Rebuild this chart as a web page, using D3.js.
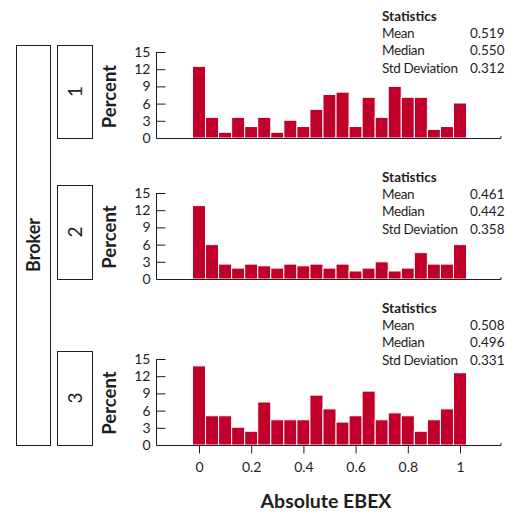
<!DOCTYPE html>
<html>
<head>
<meta charset="utf-8">
<script src="https://cdn.jsdelivr.net/npm/d3@7"></script>
<style>
  html, body { margin: 0; padding: 0; background: #fff; }
  svg { display: block; font-family: Lato, "Open Sans", sans-serif; }
</style>
</head>
<body>
<svg id="chart" width="515" height="513"></svg>
<script>
// Histogram bin midpoints of Absolute EBEX (bin width 0.05)
const binMids = d3.range(21).map(i => +(i * 0.05).toFixed(2));

// Percent of observations per bin, one series per broker
const broker1 = [12.5, 3.6, 1.0, 3.6, 2.0, 3.6, 1.0, 3.1, 2.0, 5.0, 7.6, 8.0, 2.0, 7.1, 3.6, 9.0, 7.1, 7.1, 1.5, 2.0, 6.1];
const broker2 = [12.8, 6.0, 2.6, 1.9, 2.6, 2.3, 1.9, 2.6, 2.3, 2.6, 1.9, 2.6, 1.4, 1.9, 3.0, 1.4, 1.9, 4.6, 2.6, 2.6, 6.0];
const broker3 = [13.8, 5.1, 5.1, 3.1, 2.4, 7.5, 4.4, 4.4, 4.4, 8.7, 6.3, 4.0, 5.1, 9.4, 4.4, 5.6, 5.1, 2.4, 4.4, 6.3, 12.6];

const brokers = ["1", "2", "3"];
const seriesList = [broker1, broker2, broker3];

const statLabels = ["Mean", "Median", "Std Deviation"];
const statValues = [
  ["0.519", "0.550", "0.312"],
  ["0.461", "0.442", "0.358"],
  ["0.508", "0.496", "0.331"]
];

const yTicks = [0, 3, 6, 9, 12, 15];
const xTicks = [0, 0.2, 0.4, 0.6, 0.8, 1];
const xTickLabels = ["0", "0.2", "0.4", "0.6", "0.8", "1"];

const barColor = "#C0002B";
const ink = "#1e1e1e";

const svg = d3.select("#chart");

// layout
const panelZero = [138, 279, 445];   // baseline of each panel
const panelTop = [45, 185, 351];     // top of each strip box
const statTop = [16, 177, 308];      // first stats line (center)
const plotH = 86;
const axisX = 156.5;
const axisRight = 501;

const x = d3.scaleLinear().domain([0, 1]).range([199, 460]);
const halfBin = 0.025;

// outer "Broker" strip
svg.append("rect")
  .attr("x", 16.5).attr("y", panelTop[0] + 0.5)
  .attr("width", 34).attr("height", panelZero[2] - panelTop[0])
  .attr("fill", "none").attr("stroke", ink).attr("stroke-width", 1);
svg.append("text")
  .attr("transform", `translate(39.5,${(panelTop[0] + panelZero[2]) / 2}) rotate(-90)`)
  .attr("text-anchor", "middle")
  .attr("font-size", 18).attr("font-weight", "bold").attr("fill", ink)
  .text("Broker");

seriesList.forEach((values, p) => {
  const zero = panelZero[p];
  const y = d3.scaleLinear().domain([0, 15]).range([zero, zero - plotH]);
  const g = svg.append("g");

  // panel strip
  g.append("rect")
    .attr("x", 57.5).attr("y", panelTop[p] + 0.5)
    .attr("width", 35).attr("height", zero - panelTop[p])
    .attr("fill", "none").attr("stroke", ink).attr("stroke-width", 1);
  g.append("text")
    .attr("transform", `translate(82,${(panelTop[p] + zero) / 2}) rotate(-90)`)
    .attr("text-anchor", "middle")
    .attr("font-size", 19).attr("fill", ink)
    .text(brokers[p]);

  // y axis label
  g.append("text")
    .attr("transform", `translate(116,${(panelTop[p] + zero) / 2 + 5}) rotate(-90)`)
    .attr("text-anchor", "middle")
    .attr("font-size", 18.5).attr("font-weight", "bold").attr("fill", ink)
    .text("Percent");

  // bars
  g.selectAll("rect.bar")
    .data(values)
    .join("rect")
    .attr("class", "bar")
    .attr("x", (d, i) => x(binMids[i] - halfBin))
    .attr("width", (d, i) => x(binMids[i] + halfBin) - x(binMids[i] - halfBin))
    .attr("y", d => y(d))
    .attr("height", d => zero - y(d))
    .attr("fill", barColor)
    .attr("stroke", "#fff").attr("stroke-width", 1);

  // y axis (ticks pointing inward)
  const yAxis = d3.axisLeft(y).tickValues(yTicks).tickSize(-9).tickPadding(6).tickFormat(d3.format("d"));
  const ya = g.append("g").attr("transform", `translate(${axisX},0)`).call(yAxis);
  ya.select(".domain").attr("d", `M0,${y(15)}V${zero}`).attr("stroke", ink);
  ya.selectAll(".tick line").attr("stroke", ink);
  ya.selectAll(".tick text").attr("font-size", 14).attr("fill", ink).attr("font-family", "Lato, sans-serif");

  // x baseline
  g.append("path")
    .attr("d", `M${axisX},${zero + 0.5}H${axisRight}V${zero - 2}`)
    .attr("fill", "none").attr("stroke", ink).attr("stroke-width", 1);

  // statistics block
  const st = g.append("g").attr("font-size", 13.5).attr("fill", ink);
  st.append("text").attr("x", 382).attr("y", statTop[p] + 4.8)
    .attr("font-weight", "bold").text("Statistics");
  statLabels.forEach((lab, k) => {
    st.append("text").attr("x", 382).attr("y", statTop[p] + 17.3 * (k + 1) + 4.8)
      .attr("letter-spacing", -0.35).text(lab);
    st.append("text").attr("x", 470).attr("y", statTop[p] + 17.3 * (k + 1) + 4.8).text(statValues[p][k]);
  });

  // x axis ticks on the bottom panel only
  if (p === seriesList.length - 1) {
    const xAxis = d3.axisBottom(x).tickValues(xTicks).tickSize(8).tickPadding(9)
      .tickFormat((d, i) => xTickLabels[i]);
    const xa = g.append("g").attr("transform", `translate(0,${zero + 0.5})`).call(xAxis);
    xa.select(".domain").remove();
    xa.selectAll(".tick line").attr("stroke", ink);
    xa.selectAll(".tick text").attr("font-size", 14).attr("fill", ink).attr("font-family", "Lato, sans-serif");
  }
});

// x axis title
svg.append("text")
  .attr("x", 326).attr("y", 508)
  .attr("text-anchor", "middle")
  .attr("font-size", 19.5).attr("font-weight", "bold").attr("fill", ink)
  .text("Absolute EBEX");
</script>
</body>
</html>
